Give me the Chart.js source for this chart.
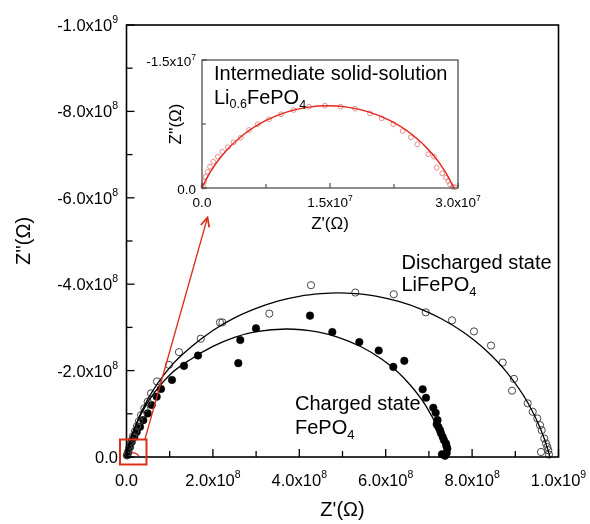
<!DOCTYPE html>
<html><head><meta charset="utf-8">
<script src="https://cdn.jsdelivr.net/npm/chart.js@4.4.1/dist/chart.umd.min.js"></script>
<style>
html,body{margin:0;padding:0;background:#fff;}
#wrap{position:relative;width:590px;height:524px;overflow:hidden;}
#main{position:absolute;left:0;top:0;}
#inset{position:absolute;left:130px;top:40px;}
</style></head><body>
<div id="wrap"><canvas id="main" width="590" height="524"></canvas><canvas id="inset" width="380" height="200"></canvas></div>
<script>
// Main plot values in units of 1e8 Ohm; inset values in units of 1e7 Ohm.
const dischargedX = [0.019,0.035,0.058,0.086,0.116,0.150,0.197,0.243,0.289,0.336,0.412,0.491,0.567,0.706,0.984,1.215,1.718,2.164,2.218,3.306,4.271,5.296,6.185,6.926,7.535,8.044,8.438,8.708,8.970,8.924,9.287,9.403,9.509,9.572,9.611,9.671,9.711,9.741,9.764,9.595,9.780];
const dischargedY = [-0.040,-0.109,-0.191,-0.284,-0.377,-0.481,-0.598,-0.714,-0.830,-0.970,-1.126,-1.279,-1.474,-1.749,-2.133,-2.428,-2.737,-3.116,-3.116,-3.319,-3.977,-3.807,-3.767,-3.349,-3.163,-2.907,-2.581,-2.186,-1.807,-1.535,-1.242,-1.047,-0.893,-0.737,-0.621,-0.428,-0.312,-0.233,-0.156,-0.116,-0.056];
const chargedX = [0.012,0.042,0.081,0.120,0.181,0.236,0.313,0.389,0.491,0.583,0.699,0.799,1.053,1.331,1.655,2.588,2.634,2.998,4.248,4.764,5.389,5.838,6.431,6.176,6.856,6.933,7.102,7.157,7.199,7.181,7.222,7.257,7.280,7.319,7.350,7.396,7.407,7.426,7.412,7.303,7.373];
const chargedY = [-0.040,-0.116,-0.233,-0.349,-0.465,-0.581,-0.698,-0.853,-1.009,-1.202,-1.395,-1.574,-1.784,-2.109,-2.349,-2.172,-2.707,-2.977,-3.272,-2.893,-2.660,-2.465,-2.226,-2.086,-1.567,-1.372,-1.140,-1.023,-0.853,-0.760,-0.691,-0.621,-0.551,-0.465,-0.388,-0.311,-0.249,-0.195,-0.093,-0.063,-0.028];
const dischargedFitX = [0,0.05,0.2,0.5,1,1.5,2,2.5,3,3.5,4,4.5,4.9,5.3,5.8,6.3,6.8,7.3,7.8,8.3,8.8,9.3,9.6,9.75,9.8];
const dischargedFitY = [0,-0.25,-0.70,-1.35,-2.07,-2.55,-2.93,-3.22,-3.44,-3.61,-3.72,-3.78,-3.80,-3.78,-3.72,-3.60,-3.43,-3.195,-2.886,-2.487,-1.963,-1.238,-0.613,-0.181,0];
const chargedFitX = [0,0.05,0.2,0.5,1,1.5,2,2.5,3,3.71,4.42,4.92,5.42,5.92,6.42,6.92,7.22,7.37,7.42];
const chargedFitY = [0,-0.25,-0.70,-1.28,-1.90,-2.27,-2.56,-2.77,-2.90,-2.963,-2.896,-2.765,-2.557,-2.255,-1.828,-1.200,-0.625,-0.195,0];
const interX = [0.015,0.027,0.043,0.067,0.094,0.132,0.184,0.238,0.301,0.371,0.454,0.551,0.653,0.785,0.926,1.075,1.254,1.441,1.625,1.793,1.969,2.106,2.242,2.352,2.449,2.523,2.652,2.719,2.750,2.816,2.859,2.886,2.906,2.938,2.965];
const interY = [-0.015,-0.074,-0.132,-0.191,-0.250,-0.308,-0.367,-0.425,-0.477,-0.536,-0.589,-0.680,-0.747,-0.805,-0.864,-0.914,-0.953,-0.965,-0.953,-0.929,-0.875,-0.817,-0.747,-0.668,-0.594,-0.512,-0.395,-0.367,-0.238,-0.172,-0.121,-0.082,-0.043,-0.015,-0.008];
const interFitX = [0,0.02,0.1,0.25,0.5,0.75,1.0,1.25,1.475,1.7,1.95,2.2,2.45,2.7,2.85,2.93,2.95];
const interFitY = [0,-0.044,-0.192,-0.399,-0.635,-0.792,-0.892,-0.948,-0.964,-0.948,-0.892,-0.792,-0.635,-0.399,-0.192,-0.044,0];

const mainXTickValues = [0,2,4,6,8,10];
const mainXTickLabels = ["0.0","2.0x10^8","4.0x10^8","6.0x10^8","8.0x10^8","1.0x10^9"];
const mainYTickValues = [0,-2,-4,-6,-8,-10];
const mainYTickLabels = ["0.0","-2.0x10^8","-4.0x10^8","-6.0x10^8","-8.0x10^8","-1.0x10^9"];
const insetXTickValues = [0,1.5,3];
const insetXTickLabels = ["0.0","1.5x10^7","3.0x10^7"];
const insetYTickValues = [0,-1.5];
const insetYTickLabels = ["0.0","-1.5x10^7"];

const FONT = '"Liberation Sans", Arial, Helvetica, sans-serif';
function fnt(s){ return s + 'px ' + FONT; }
function pts(xs, ys, k){ k = k || 1; return xs.map((x,i)=>({x:x*k, y:ys[i]*k})); }
function richWidth(ctx, parts){ let w=0; for(const p of parts){ ctx.font=fnt(p.s); w+=ctx.measureText(p.t).width; } return w; }
function drawRich(ctx, parts, x, y, align){
  const w = richWidth(ctx, parts);
  let cx = align==='center' ? x-w/2 : (align==='right' ? x-w : x);
  ctx.textAlign='left'; ctx.textBaseline='alphabetic';
  for(const p of parts){ ctx.font=fnt(p.s); ctx.fillText(p.t, cx, y+(p.dy||0)); cx+=ctx.measureText(p.t).width; }
}
function parseLabel(str, size, supSize, supDy){
  const i = str.indexOf('^');
  if(i<0) return [{t:str, s:size}];
  return [{t:str.slice(0,i), s:size}, {t:str.slice(i+1), s:supSize, dy:supDy}];
}

const mainDecor = {
  id:'mainDecor',
  afterDraw(chart){
    const ctx = chart.ctx, a = chart.chartArea, xs = chart.scales.x, ys = chart.scales.y;
    ctx.save();
    ctx.fillStyle='#000'; ctx.strokeStyle='#000';
    ctx.lineWidth=1.3;
    for(let v=0; v<=10; v++){
      const px = xs.getPixelForValue(v), len = (v%2===0)?8:6;
      ctx.beginPath(); ctx.moveTo(px, a.bottom); ctx.lineTo(px, a.bottom-len); ctx.stroke();
      const py = ys.getPixelForValue(-v);
      ctx.beginPath(); ctx.moveTo(a.left, py); ctx.lineTo(a.left+len, py); ctx.stroke();
    }
    ctx.lineWidth=1.6;
    ctx.strokeRect(a.left, a.top, a.right-a.left, a.bottom-a.top);
    mainXTickValues.forEach((v,i)=>{
      drawRich(ctx, parseLabel(mainXTickLabels[i], 16.5, 10.5, -8), xs.getPixelForValue(v), 486, 'center');
    });
    mainYTickValues.forEach((v,i)=>{
      drawRich(ctx, parseLabel(mainYTickLabels[i], 16.5, 10.5, -8), 118, ys.getPixelForValue(v)+6, 'right');
    });
    ctx.font=fnt(20); ctx.textAlign='center'; ctx.textBaseline='alphabetic';
    ctx.fillText("Z'(\u03A9)", (a.left+a.right)/2, 516);
    ctx.save(); ctx.translate(24, (a.top+a.bottom)/2); ctx.rotate(-Math.PI/2);
    ctx.textBaseline='middle'; ctx.fillText("Z''(\u03A9)", 0, 0); ctx.restore();
    drawRich(ctx, [{t:'Discharged state', s:20}], 401.5, 268.5, 'left');
    drawRich(ctx, [{t:'LiFePO', s:20},{t:'4', s:13, dy:5}], 401.5, 290.5, 'left');
    drawRich(ctx, [{t:'Charged state', s:20}], 295, 410, 'left');
    drawRich(ctx, [{t:'FePO', s:20},{t:'4', s:13, dy:5}], 295, 434, 'left');
    ctx.strokeStyle='#d9301a'; ctx.lineWidth=2;
    ctx.strokeRect(120, 439.5, 26.5, 25);
    const sx=145, sy=439, tx=207.5, ty=217.5;
    ctx.lineWidth=1.3;
    ctx.beginPath(); ctx.moveTo(sx,sy); ctx.lineTo(tx,ty); ctx.stroke();
    const ang = Math.atan2(sy-ty, sx-tx), L=10, w=0.45;
    ctx.lineWidth=1.8;
    ctx.beginPath();
    ctx.moveTo(tx+L*Math.cos(ang+w), ty+L*Math.sin(ang+w));
    ctx.lineTo(tx,ty);
    ctx.lineTo(tx+L*Math.cos(ang-w), ty+L*Math.sin(ang-w));
    ctx.stroke();
    ctx.restore();
  }
};

new Chart(document.getElementById('main'), {
  type:'scatter',
  data:{ datasets:[
    {data:pts(dischargedFitX, dischargedFitY), showLine:true, pointRadius:0, borderColor:'#000', borderWidth:1.3, cubicInterpolationMode:'monotone', fill:false},
    {data:pts(chargedFitX, chargedFitY), showLine:true, pointRadius:0, borderColor:'#000', borderWidth:1.3, cubicInterpolationMode:'monotone', fill:false},
    {data:pts(dischargedX, dischargedY), pointRadius:3.6, pointBorderWidth:1, pointBorderColor:'#444', pointBackgroundColor:'rgba(255,255,255,0)', clip:false},
    {data:pts(chargedX, chargedY), pointRadius:3.8, pointBorderWidth:0.5, pointBorderColor:'#000', pointBackgroundColor:'#000', clip:false},
    {data:pts(interFitX, interFitY, 0.1), showLine:true, pointRadius:0, borderColor:'#e3261c', borderWidth:1.2, cubicInterpolationMode:'monotone', fill:false}
  ]},
  options:{
    responsive:false, animation:false, devicePixelRatio:1,
    layout:{padding:{left:126.5, top:25, right:31.5, bottom:67}},
    plugins:{legend:{display:false}, tooltip:{enabled:false}},
    scales:{
      x:{type:'linear', min:0, max:10, display:false},
      y:{type:'linear', min:-10, max:0, reverse:true, display:false}
    }
  },
  plugins:[mainDecor]
});

const OX=130, OY=40;
const insetDecor = {
  id:'insetDecor',
  afterDraw(chart){
    const ctx = chart.ctx, a = chart.chartArea, xs = chart.scales.x, ys = chart.scales.y;
    ctx.save();
    ctx.strokeStyle='#333'; ctx.fillStyle='#000'; ctx.lineWidth=1;
    [0,0.75,1.5,2.25,3].forEach((v,i)=>{
      const px = xs.getPixelForValue(v), len = (i%2===0)?5:4;
      ctx.beginPath(); ctx.moveTo(px, a.bottom); ctx.lineTo(px, a.bottom-len); ctx.stroke();
    });
    [0,-0.75,-1.5].forEach((v,i)=>{
      const py = ys.getPixelForValue(v), len = (i%2===0)?5:4;
      ctx.beginPath(); ctx.moveTo(a.left, py); ctx.lineTo(a.left+len, py); ctx.stroke();
    });
    ctx.lineWidth=1.2; ctx.strokeStyle='#444';
    ctx.strokeRect(a.left, a.top, a.right-a.left, a.bottom-a.top);
    insetXTickValues.forEach((v,i)=>{
      drawRich(ctx, parseLabel(insetXTickLabels[i], 13.5, 8.5, -6), xs.getPixelForValue(v), 206.5-OY, 'center');
    });
    insetYTickValues.forEach((v,i)=>{
      drawRich(ctx, parseLabel(insetYTickLabels[i], 13.5, 8.5, -6), 196-OX, ys.getPixelForValue(v)+6, 'right');
    });
    ctx.font=fnt(17); ctx.textAlign='center'; ctx.textBaseline='alphabetic';
    ctx.fillText("Z'(\u03A9)", (a.left+a.right)/2, 229-OY);
    ctx.save(); ctx.translate(176.5-OX, (a.top+a.bottom)/2); ctx.rotate(-Math.PI/2);
    ctx.textBaseline='middle'; ctx.fillText("Z''(\u03A9)", 0, 0); ctx.restore();
    drawRich(ctx, [{t:'Intermediate solid-solution', s:20}], 214-OX, 79.5-OY, 'left');
    drawRich(ctx, [{t:'Li', s:20},{t:'0.6', s:12.5, dy:4},{t:'FePO', s:20},{t:'4', s:12.5, dy:5}], 214-OX, 103.5-OY, 'left');
    ctx.restore();
  }
};

new Chart(document.getElementById('inset'), {
  type:'scatter',
  data:{ datasets:[
    {data:pts(interFitX, interFitY), showLine:true, pointRadius:0, borderColor:'#e3261c', borderWidth:1.4, cubicInterpolationMode:'monotone', fill:false},
    {data:pts(interX, interY), pointRadius:2.4, pointBorderWidth:0.8, pointBorderColor:'#e07575', pointBackgroundColor:'rgba(255,255,255,0)', clip:false}
  ]},
  options:{
    responsive:false, animation:false, devicePixelRatio:1,
    layout:{padding:{left:72, top:20, right:52, bottom:52}},
    plugins:{legend:{display:false}, tooltip:{enabled:false}},
    scales:{
      x:{type:'linear', min:0, max:3, display:false},
      y:{type:'linear', min:-1.5, max:0, reverse:true, display:false}
    }
  },
  plugins:[insetDecor]
});
</script>
</body></html>
